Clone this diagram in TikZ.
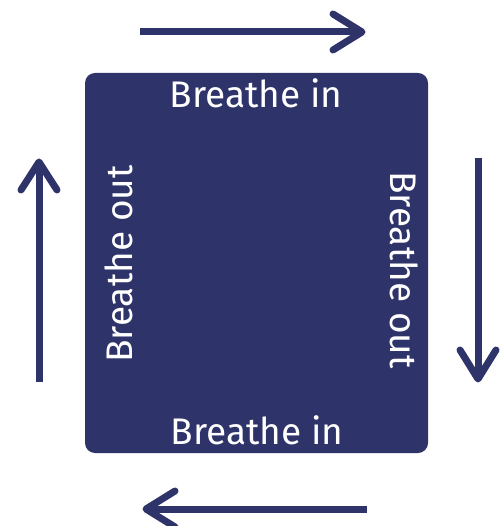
\documentclass[tikz,border=0pt]{standalone}
\usepackage{fontspec}
\setmainfont{Fira Sans}
\definecolor{navy}{HTML}{2E336A}
\begin{document}
\begin{tikzpicture}[x=1pt,y=-1pt,
  lbl/.style={text=white,font=\fontsize{37}{40}\selectfont,inner sep=0pt,anchor=base},
  shaft/.style={draw=navy,line width=7pt},
  head/.style={draw=navy,line width=7pt,line cap=round,line join=round}]
\useasboundingbox (0,0) rectangle (499,526);
\node[fill=navy,rounded corners=10pt,minimum width=343pt,minimum height=380pt,inner sep=0pt] (box) at (256.5,263) {};
\node[lbl] (tin) at (256,108) {Breathe in};
\node[lbl] (bin) at (257,444) {Breathe in};
\node[lbl,rotate=90] (lout) at (132,264) {Breathe out};
\node[lbl,rotate=-90] (rout) at (390,270) {Breathe out};
% top arrow
\coordinate (ta) at (140,32); \coordinate (tb) at (362,32);
\draw[shaft] (ta) -- (tb);
\draw[head] (333,14) -- (tb) -- (333,50);
% right arrow
\coordinate (ra) at (478,158); \coordinate (rb) at (478,379);
\draw[shaft] (ra) -- (rb);
\draw[head] (460,350) -- (rb) -- (496,350);
% bottom arrow
\coordinate (ba) at (367,509); \coordinate (bb) at (146,509);
\draw[shaft] (ba) -- (bb);
\draw[head] (175,491) -- (bb) -- (175,527);
% left arrow
\coordinate (la) at (39,382); \coordinate (lb) at (39,162);
\draw[shaft] (la) -- (lb);
\draw[head] (21,190) -- (lb) -- (57,190);
\end{tikzpicture}
\end{document}
